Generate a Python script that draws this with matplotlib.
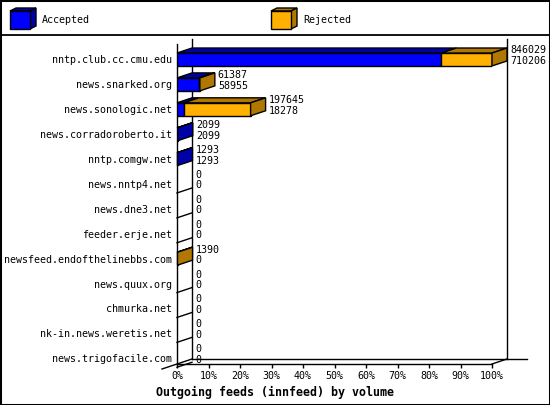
import matplotlib
matplotlib.use('Agg')
import matplotlib.pyplot as plt
from matplotlib.patches import Polygon, Rectangle
from matplotlib.lines import Line2D

# ---------------- data ----------------
hosts = ['nntp.club.cc.cmu.edu', 'news.snarked.org', 'news.sonologic.net',
         'news.corradoroberto.it', 'nntp.comgw.net', 'news.nntp4.net',
         'news.dne3.net', 'feeder.erje.net', 'newsfeed.endofthelinebbs.com',
         'news.quux.org', 'chmurka.net', 'nk-in.news.weretis.net',
         'news.trigofacile.com']
offered = [846029, 61387, 197645, 2099, 1293, 0, 0, 0, 1390, 0, 0, 0, 0]
accepted = [710206, 58955, 18278, 2099, 1293, 0, 0, 0, 0, 0, 0, 0, 0]
legend_labels = ['Accepted', 'Rejected']
xtick_values = [0, 10, 20, 30, 40, 50, 60, 70, 80, 90, 100]
xtick_labels = ['0%', '10%', '20%', '30%', '40%', '50%', '60%', '70%',
                '80%', '90%', '100%']
title = 'Outgoing feeds (innfeed) by volume'

# ---------------- style ----------------
W, H = 550, 405
BLUE, DBLUE = '#0000ff', '#0000a8'
ORANGE, DORANGE = '#ffb000', '#b07800'
MONO = 'DejaVu Sans Mono'
FS = 7.2
DEPTH_PX = (15, 5)
BAR_H = 0.52

fig = plt.figure(figsize=(W / 100, H / 100), dpi=100)
fig.patch.set_facecolor('white')

# axes = front plane of the 3d box
x0px, x1px, ytop, ybot = 177, 492, 44, 364
ax = fig.add_axes([x0px / W, 1 - ybot / H, (x1px - x0px) / W, (ybot - ytop) / H])
ax.set_xlim(0, 100)
ax.set_ylim(12.229, -0.622)
ax.set_facecolor('none')

# depth offsets in data units
p0 = ax.transData.transform((0, 0))
q = ax.transData.inverted().transform((p0[0] + DEPTH_PX[0], p0[1] + DEPTH_PX[1]))
dxd, dyd = q[0], q[1]
ext = ax.transData.inverted().transform((p0[0] + 20, p0[1]))[0]

ylo, yhi = ax.get_ylim()  # bottom, top

def line(xs, ys, **kw):
    ax.add_line(Line2D(xs, ys, color='black', lw=1, clip_on=False, **kw))

# back plane lines
line([dxd, dxd], [yhi + dyd, ylo + dyd])
line([100 + dxd, 100 + dxd], [yhi + dyd, ylo + dyd])
line([dxd, 100 + dxd + ext], [ylo + dyd, ylo + dyd])
line([100, 100 + dxd], [ylo, ylo + dyd])
line([-dxd, dxd], [ylo - dyd, ylo + dyd])

maxv = max(offered)
for i, (off, acc) in enumerate(zip(offered, accepted)):
    t = off / maxv * 100
    a = acc / maxv * 100
    top, bot = i - BAR_H / 2, i + BAR_H / 2
    if off > 0:
        segs = []
        if a > 0:
            ax.barh(i, a, height=BAR_H, left=0, color=BLUE, edgecolor='black',
                    linewidth=1, zorder=3)
            segs.append((0, a, DBLUE))
        if t - a > 0:
            ax.barh(i, t - a, height=BAR_H, left=a, color=ORANGE,
                    edgecolor='black', linewidth=1, zorder=3)
            segs.append((a, t, DORANGE))
        for s0, s1, dc in segs:
            ax.add_patch(Polygon([(s0, top), (s1, top), (s1 + dxd, top + dyd),
                                  (s0 + dxd, top + dyd)], closed=True,
                                 facecolor=dc, edgecolor='black', lw=1,
                                 zorder=3, clip_on=False))
        ax.add_patch(Polygon([(t, top), (t + dxd, top + dyd), (t + dxd, bot + dyd),
                              (t, bot)], closed=True, facecolor=segs[-1][2],
                             edgecolor='black', lw=1, zorder=3, clip_on=False))
    else:
        yy = i + 0.36
        line([0, dxd], [yy, yy + dyd], zorder=3)
    ax.annotate(str(off), xy=(t, i), xytext=(18, 9), textcoords='offset pixels',
                ha='left', va='center', fontsize=FS, family=MONO,
                annotation_clip=False)
    ax.annotate(str(acc), xy=(t, i), xytext=(18, -1.5), textcoords='offset pixels',
                ha='left', va='center', fontsize=FS, family=MONO,
                annotation_clip=False)

# axes styling
for s in ['top', 'right']:
    ax.spines[s].set_visible(False)
for s in ['left', 'bottom']:
    ax.spines[s].set_linewidth(1)
    ax.spines[s].set_color('black')
ax.set_xticks(xtick_values)
ax.set_xticklabels(xtick_labels, family=MONO, fontsize=FS)
ax.set_yticks(range(len(hosts)))
ax.set_yticklabels(hosts, family=MONO, fontsize=FS)
ax.tick_params(axis='x', length=3, width=1, pad=2, direction='out')
ax.tick_params(axis='y', length=0, pad=3.6)

# title
fig.text(0.5, 1 - 392 / H, title, ha='center', va='center', fontsize=8.4,
         family=MONO, fontweight='bold')

# legend area
def fx(px):
    return px / W

def fy(py):
    return 1 - py / H

def cube(xl, col, dcol):
    yt, yb, w, ox, oy = 11, 29, 20, 6, 3
    fig.add_artist(Polygon([(fx(xl), fy(yt)), (fx(xl + ox), fy(yt - oy)),
                            (fx(xl + w + ox), fy(yt - oy)), (fx(xl + w), fy(yt))],
                           closed=True, transform=fig.transFigure,
                           facecolor=dcol, edgecolor='black', lw=1))
    fig.add_artist(Polygon([(fx(xl + w), fy(yt)), (fx(xl + w + ox), fy(yt - oy)),
                            (fx(xl + w + ox), fy(yb - oy)), (fx(xl + w), fy(yb))],
                           closed=True, transform=fig.transFigure,
                           facecolor=dcol, edgecolor='black', lw=1))
    fig.add_artist(Rectangle((fx(xl), fy(yb)), fx(w), (yb - yt) / H,
                             transform=fig.transFigure, facecolor=col,
                             edgecolor='black', lw=1))

cube(10, BLUE, DBLUE)
fig.text(fx(42), fy(20), legend_labels[0], ha='left', va='center', fontsize=FS,
         family=MONO)
cube(271, ORANGE, DORANGE)
fig.text(fx(303), fy(20), legend_labels[1], ha='left', va='center', fontsize=FS,
         family=MONO)

fig.add_artist(Line2D([0, 1], [fy(35), fy(35)], transform=fig.transFigure,
                      color='black', lw=1.3))
fig.add_artist(Rectangle((0, 0), 1, 1, transform=fig.transFigure, fill=False,
                         edgecolor='black', lw=2.2))

fig.savefig('out.png', dpi=100, facecolor='white')
